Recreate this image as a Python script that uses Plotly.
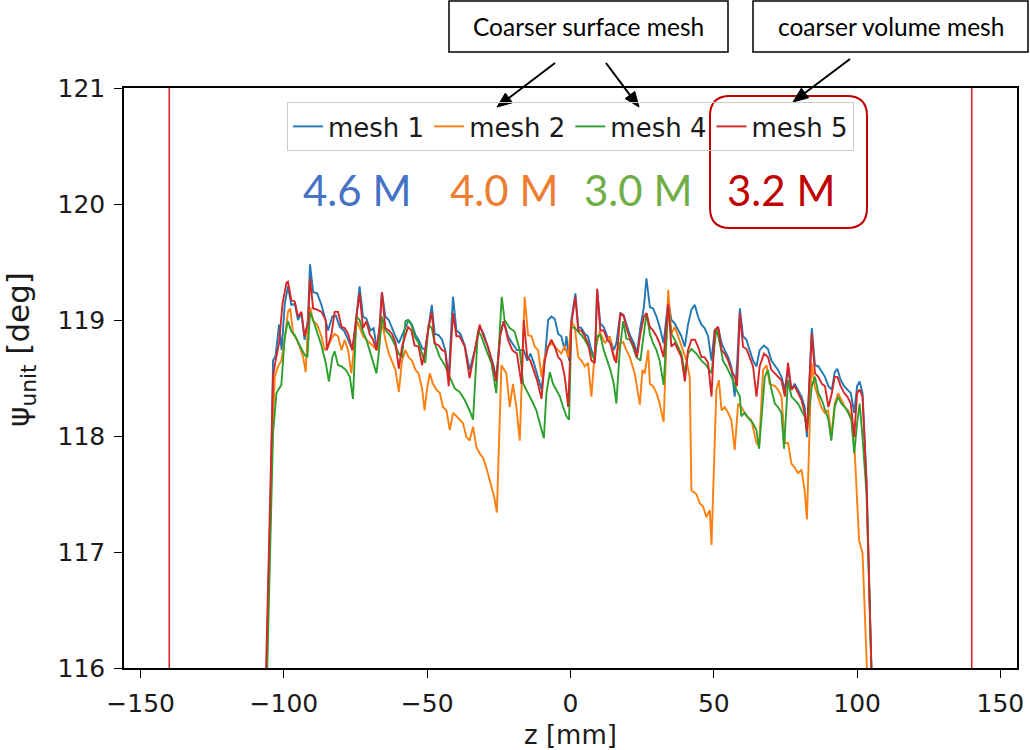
import math
import plotly.graph_objects as go

# ---------------------------------------------------------------- data
z_mesh1 = [-106.6, -104.4, -103.8, -102.9, -101.7, -100.8, -99.7, -98.6, -97.4, -96.2, -95.1, -93.9, -92.8,
           -91.6, -90.9, -89.8, -88.4, -86.9, -85.8, -84.6, -83.1, -81.9, -80.5, -79.1, -77.6, -76.1, -74.7,
           -73.6, -72.4, -71.2, -69.8, -68.7, -67.5, -66.6, -65.8, -64.6, -63.4, -62.3, -61.1, -59.9, -58.8,
           -57.6, -56.5, -55.3, -54.1, -53.0, -51.8, -50.7, -49.5, -48.4, -47.4, -46.0, -44.8, -43.7, -42.5,
           -41.0, -39.8, -38.4, -36.9, -35.2, -33.4, -31.7, -30.3, -28.8, -27.1, -25.9, -24.5, -23.3, -21.8,
           -20.3, -18.7, -17.7, -16.3, -15.1, -14.0, -12.8, -11.65, -10.1, -9.0, -7.8, -6.65, -5.5, -4.3, -3.2,
           -2.0, -1.4, -0.5, 0.3, 1.7, 2.7, 3.8, 5.0, 6.1, 7.3, 8.5, 9.3, 10.4, 11.6, 12.8, 13.9, 15.1, 16.0,
           17.4, 18.6, 19.8, 20.9, 22.1, 23.2, 24.4, 25.6, 26.5, 27.7, 28.8, 30.0, 31.1, 32.5, 34.1, 35.2, 36.4,
           37.5, 38.7, 39.9, 41.0, 42.2, 43.4, 44.5, 45.7, 46.8, 48.0, 49.2, 50.3, 51.5, 52.7, 53.8, 55.0, 56.1,
           57.3, 58.2, 59.1, 60.2, 61.4, 62.5, 63.7, 64.9, 66.0, 67.5, 68.9, 70.1, 71.3, 72.4, 73.6, 74.8, 75.9,
           77.1, 78.2, 79.4, 80.6, 81.7, 82.5, 84.2, 85.3, 86.5, 87.7, 88.8, 90.0, 91.2, 92.2, 93.1, 94.3, 95.5,
           96.6, 97.8, 99.0, 100.0, 100.9, 101.9, 103.3, 105.0, 105.6]
psi_mesh1 = [115.4, 117.71, 118.65, 118.69, 118.96, 118.74, 119.14, 119.29, 119.13, 119.14, 119.00, 119.06, 118.83,
             119.00, 119.48, 119.24, 119.23, 119.13, 119.03, 118.91, 119.03, 119.04, 118.94, 118.91, 118.83, 118.74,
             119.03, 119.29, 119.03, 119.01, 118.91, 118.93, 118.74, 118.94, 119.24, 119.03, 119.00, 118.93, 118.86,
             118.80, 118.87, 118.94, 119.00, 118.96, 118.87, 118.83, 118.76, 118.74, 118.94, 119.13, 118.88, 118.87,
             118.83, 118.74, 118.51, 119.20, 118.91, 118.88, 118.78, 118.57, 118.74, 118.94, 118.88, 118.77, 118.63,
             118.50, 118.88, 118.99, 118.86, 118.80, 118.74, 118.74, 118.74, 118.65, 118.71, 118.63, 118.54, 118.40,
             118.65, 119.00, 119.03, 119.01, 118.88, 118.86, 118.74, 118.86, 118.65, 119.00, 119.23, 118.94, 118.93,
             118.88, 118.86, 118.74, 118.68, 119.26, 118.97, 118.94, 118.86, 118.83, 118.74, 118.80, 119.06, 119.04,
             118.94, 118.86, 118.80, 118.71, 118.94, 119.11, 119.36, 119.11, 119.10, 119.03, 118.94, 118.80, 119.17,
             119.00, 118.97, 118.91, 118.86, 118.77, 118.96, 119.09, 119.13, 119.03, 118.96, 118.93, 118.86, 118.65,
             118.91, 118.94, 118.80, 118.74, 118.68, 118.60, 118.34, 118.65, 119.10, 118.86, 118.83, 118.74, 118.65,
             118.60, 118.74, 118.78, 118.75, 118.65, 118.61, 118.57, 118.51, 118.40, 118.57, 118.40, 118.45, 118.40,
             118.34, 118.25, 117.99, 118.93, 118.61, 118.60, 118.55, 118.51, 118.43, 118.40, 118.55, 118.58, 118.48,
             118.43, 118.40, 118.37, 118.20, 118.43, 118.47, 118.37, 117.62, 116.05, 115.4]

z_mesh2 = [-106.6, -104.4, -103.2, -102.05, -100.9, -99.7, -98.6, -97.8, -96.8, -95.7, -94.5, -93.3, -92.4, -91.5,
           -90.8, -89.8, -88.4, -86.9, -85.8, -84.6, -83.4, -82.3, -81.1, -79.9, -78.8, -77.6, -76.5, -75.3, -74.5,
           -73.6, -72.4, -71.2, -69.8, -68.7, -67.5, -66.6, -65.6, -64.6, -63.4, -62.3, -61.1, -59.9, -58.8, -57.6,
           -56.5, -55.3, -54.1, -53.0, -51.8, -50.9, -50.1, -49.1, -48.0, -46.8, -45.6, -44.5, -43.3, -42.1, -41.0,
           -39.8, -38.7, -37.5, -36.3, -35.2, -34.0, -32.9, -31.7, -30.5, -29.4, -28.2, -27.4, -26.6, -25.7, -24.1,
           -22.4, -21.2, -20.1, -18.9, -17.7, -16.0, -14.8, -13.6, -12.5, -11.3, -10.1, -9.0, -7.8, -6.65, -5.5,
           -4.3, -3.2, -2.0, -0.8, 0.3, 1.5, 2.7, 3.8, 5.0, 6.1, 7.3, 8.5, 10.2, 12.0, 13.7, 15.4, 17.2, 18.4, 19.5,
           20.7, 22.4, 24.2, 25.1, 25.9, 27.1, 27.7, 28.8, 30.0, 31.1, 32.5, 34.1, 35.2, 36.4, 37.5, 39.3, 40.5,
           41.6, 42.2, 43.9, 45.1, 46.3, 47.4, 48.6, 49.2, 50.9, 51.8, 52.7, 53.8, 55.0, 56.1, 57.3, 58.5, 59.6,
           61.4, 63.1, 64.9, 65.8, 67.2, 68.4, 69.5, 71.3, 72.4, 73.6, 74.8, 75.9, 77.1, 78.2, 79.4, 80.6, 81.7,
           82.5, 84.1, 85.2, 86.4, 87.5, 88.7, 89.9, 91.0, 92.2, 93.4, 94.5, 95.7, 96.9, 98.0, 99.2, 100.7, 101.9,
           103.6, 104.2]
psi_mesh2 = [115.4, 117.71, 118.51, 118.60, 118.65, 118.83, 119.07, 119.10, 118.88, 118.84, 118.77, 118.68, 118.55,
             119.03, 119.11, 118.99, 118.96, 118.86, 118.74, 118.77, 118.84, 118.88, 118.86, 118.74, 118.83, 118.74,
             118.54, 118.80, 118.99, 118.94, 118.86, 118.83, 118.80, 118.77, 118.74, 118.88, 118.96, 118.83, 118.71,
             118.65, 118.57, 118.38, 118.65, 118.74, 118.68, 118.65, 118.57, 118.54, 118.41, 118.22, 118.40, 118.54,
             118.45, 118.40, 118.37, 118.25, 118.22, 118.05, 118.20, 118.17, 118.14, 118.11, 117.99, 117.96, 118.08,
             117.91, 117.85, 117.81, 117.73, 117.62, 117.55, 117.47, 117.34, 118.61, 118.54, 118.25, 118.45, 118.25,
             117.96, 119.20, 118.87, 118.86, 118.77, 118.74, 118.51, 118.68, 118.77, 118.80, 118.77, 118.74, 118.71,
             118.78, 118.68, 118.99, 118.94, 118.68, 118.65, 118.60, 118.63, 118.34, 118.74, 118.90, 118.80, 118.86,
             118.65, 118.80, 118.81, 118.74, 118.68, 118.54, 118.27, 118.57, 118.54, 118.74, 118.45, 118.43, 118.37,
             118.28, 118.12, 119.26, 118.88, 118.94, 118.86, 118.74, 118.65, 118.51, 117.53, 117.50, 117.42, 117.39,
             117.30, 117.36, 117.06, 118.40, 118.48, 118.22, 118.25, 118.20, 118.14, 117.88, 118.28, 118.25, 118.17,
             118.14, 117.94, 117.91, 118.57, 118.61, 118.45, 118.43, 118.40, 118.34, 117.94, 117.94, 117.76, 117.73,
             117.68, 117.71, 117.53, 117.28, 118.63, 118.43, 118.34, 118.25, 118.20, 118.22, 117.99, 118.28, 118.37,
             118.31, 118.25, 118.22, 118.17, 117.85, 117.10, 116.99, 116.01, 115.5]

z_mesh4 = [-106.4, -104.0, -103.8, -102.6, -100.9, -99.7, -98.6, -97.4, -96.2, -95.1, -93.9, -92.8, -91.8, -90.9,
           -89.8, -88.4, -86.9, -85.4, -84.3, -83.1, -82.3, -81.1, -79.9, -78.4, -77.0, -75.9, -74.7, -73.6, -72.4,
           -71.2, -69.8, -68.7, -67.7, -66.8, -65.8, -64.6, -63.4, -62.3, -61.1, -59.9, -58.8, -57.6, -56.7, -55.5,
           -54.4, -53.0, -51.8, -50.7, -49.5, -48.4, -47.4, -45.6, -43.9, -42.1, -40.4, -38.7, -36.9, -35.2, -34.0,
           -32.3, -31.1, -29.4, -27.6, -25.9, -24.7, -24.0, -23.0, -21.2, -19.5, -17.7, -16.5, -15.4, -14.2, -13.0,
           -11.9, -10.7, -9.3, -8.4, -7.2, -6.1, -4.9, -3.7, -2.6, -1.4, -0.5, 0.3, 1.5, 2.7, 3.8, 5.0, 6.1, 7.3,
           8.5, 9.3, 10.4, 11.6, 12.8, 13.9, 15.1, 16.0, 17.2, 18.4, 19.5, 20.7, 21.8, 23.0, 24.4, 25.6, 26.5, 27.7,
           28.8, 30.0, 31.1, 32.5, 34.1, 35.2, 36.4, 37.5, 38.7, 39.9, 41.0, 42.2, 43.9, 45.7, 47.4, 49.2, 50.9,
           52.1, 53.2, 54.4, 55.6, 56.7, 57.9, 59.1, 59.6, 60.8, 62.5, 63.7, 64.9, 65.8, 67.8, 68.9, 70.1, 71.3,
           72.4, 73.6, 74.5, 75.9, 77.1, 78.2, 79.4, 80.6, 81.7, 82.5, 84.2, 85.3, 86.5, 87.7, 88.8, 90.0, 91.0,
           92.2, 93.4, 94.5, 95.7, 96.9, 98.0, 99.0, 100.0, 100.9, 101.9, 103.3, 105.0, 105.5]
psi_mesh4 = [115.4, 117.71, 118.02, 118.37, 118.44, 118.86, 118.99, 118.90, 118.87, 118.81, 118.75, 118.70, 118.68,
             119.07, 119.00, 118.90, 118.78, 118.63, 118.47, 118.68, 118.73, 118.61, 118.60, 118.57, 118.51, 118.32,
             119.03, 119.00, 118.90, 118.83, 118.71, 118.63, 118.54, 118.74, 119.03, 118.91, 118.88, 118.84, 118.78,
             118.71, 118.68, 118.99, 119.00, 118.96, 118.86, 118.80, 118.71, 118.63, 118.96, 118.93, 118.80, 118.68,
             118.61, 118.51, 118.41, 118.38, 118.31, 118.22, 118.14, 118.91, 118.86, 118.74, 118.63, 118.37, 118.88,
             119.20, 119.00, 118.93, 118.90, 118.74, 118.45, 118.40, 118.34, 118.28, 118.22, 118.11, 117.98, 118.37,
             118.55, 118.45, 118.40, 118.34, 118.25, 118.17, 118.14, 118.94, 118.93, 118.90, 118.87, 118.83, 118.78,
             118.71, 118.65, 118.86, 118.87, 118.74, 118.65, 118.57, 118.45, 118.28, 118.74, 118.99, 118.84, 118.83,
             118.77, 118.68, 118.65, 118.91, 119.06, 118.88, 118.80, 118.74, 118.65, 118.44, 119.11, 118.88, 118.83,
             118.77, 118.71, 118.54, 118.71, 118.75, 118.71, 118.65, 118.61, 118.54, 118.93, 118.80, 118.65, 118.60,
             118.54, 118.48, 118.40, 118.34, 118.17, 118.20, 118.14, 118.11, 118.05, 117.89, 118.51, 118.57, 118.40,
             118.28, 118.25, 118.20, 117.89, 118.48, 118.34, 118.31, 118.28, 118.22, 118.17, 118.05, 118.43, 118.51,
             118.37, 118.31, 118.22, 118.14, 117.96, 118.25, 118.34, 118.28, 118.25, 118.20, 118.14, 117.85, 118.11,
             118.28, 117.99, 117.50, 116.0, 115.5]

z_mesh5 = [-106.8, -104.7, -103.8, -102.9, -101.7, -100.5, -99.1, -98.6, -97.4, -96.2, -95.1, -93.9, -92.8, -91.6,
           -90.9, -89.8, -88.4, -86.9, -85.4, -85.0, -83.4, -82.3, -81.1, -79.9, -78.8, -77.6, -76.1, -74.7, -73.6,
           -72.4, -71.2, -70.1, -68.9, -67.7, -66.6, -65.8, -64.6, -63.4, -62.3, -61.1, -59.9, -58.8, -57.6, -56.7,
           -55.5, -54.4, -53.0, -51.8, -50.7, -49.5, -48.4, -47.4, -46.0, -44.8, -43.7, -42.5, -41.0, -39.8, -38.7,
           -36.9, -35.2, -33.4, -31.7, -30.3, -28.8, -27.1, -25.9, -24.5, -23.3, -21.8, -20.3, -18.7, -17.1, -16.3,
           -15.1, -14.0, -12.8, -11.65, -10.1, -9.0, -7.8, -6.65, -5.5, -4.3, -3.2, -2.0, -0.8, 0.3, 1.7, 2.7, 3.8,
           5.0, 6.1, 7.3, 8.5, 9.3, 10.4, 11.6, 12.8, 13.9, 15.1, 16.0, 17.4, 18.6, 19.8, 20.9, 22.1, 23.2, 24.4,
           25.6, 26.5, 27.7, 28.8, 30.0, 31.1, 32.5, 34.1, 35.2, 36.4, 37.5, 38.7, 39.9, 41.0, 42.2, 43.4, 44.5,
           45.7, 46.8, 48.0, 49.2, 50.3, 51.5, 52.7, 53.8, 55.0, 56.1, 57.3, 58.1, 59.1, 60.2, 61.4, 62.5, 63.7,
           64.9, 66.0, 67.5, 68.9, 70.1, 71.3, 72.4, 73.6, 74.8, 75.9, 77.1, 78.2, 79.4, 80.6, 81.7, 82.5, 84.2,
           85.3, 86.5, 87.7, 88.8, 90.0, 91.2, 92.2, 93.1, 94.3, 95.5, 96.6, 97.8, 99.0, 100.0, 100.9, 101.9, 103.3,
           105.0, 105.5]
psi_mesh5 = [115.4, 117.71, 118.51, 118.65, 118.80, 119.14, 119.32, 119.33, 119.17, 119.16, 119.03, 119.07, 118.86,
             118.97, 119.36, 119.10, 119.09, 119.07, 119.00, 118.74, 118.88, 119.07, 119.07, 118.94, 118.93, 118.88,
             118.74, 119.03, 119.23, 118.93, 118.99, 118.88, 118.83, 118.74, 118.94, 119.24, 118.93, 118.91, 118.88,
             118.81, 118.58, 118.77, 118.88, 118.94, 118.91, 118.78, 118.77, 118.61, 118.74, 118.94, 119.07, 118.80,
             118.78, 118.74, 118.73, 118.43, 119.06, 118.86, 118.86, 118.77, 118.50, 118.74, 118.96, 118.86, 118.77,
             118.61, 118.47, 118.87, 118.99, 118.83, 118.74, 118.71, 118.45, 119.00, 118.68, 118.65, 118.57, 118.48,
             118.32, 118.65, 118.77, 118.83, 118.77, 118.68, 118.65, 118.51, 118.25, 118.97, 119.20, 118.91, 118.91,
             118.86, 118.80, 118.65, 118.63, 119.27, 118.91, 118.91, 118.83, 118.80, 118.68, 118.63, 119.06, 119.03,
             118.91, 118.83, 118.77, 118.68, 118.88, 119.03, 119.06, 118.94, 118.91, 118.86, 118.80, 118.68, 119.14,
             118.77, 118.80, 118.74, 118.68, 118.47, 118.74, 118.83, 118.83, 118.77, 118.68, 118.68, 118.63, 118.34,
             118.91, 118.94, 118.74, 118.71, 118.65, 118.57, 118.51, 118.43, 119.06, 118.77, 118.75, 118.68, 118.60,
             118.34, 118.60, 118.71, 118.68, 118.57, 118.54, 118.51, 118.48, 118.34, 118.63, 118.40, 118.43, 118.37,
             118.31, 118.20, 118.04, 118.88, 118.54, 118.51, 118.45, 118.43, 118.25, 118.37, 118.51, 118.51, 118.43,
             118.37, 118.34, 118.28, 117.99, 118.37, 118.40, 118.34, 117.59, 116.0, 115.5]

# domain boundaries drawn as vertical lines
wall_z = [-140, 140]

series_names = ["mesh 1", "mesh 2", "mesh 4", "mesh 5"]
series_colors = ["#1f77b4", "#ff7f0e", "#2ca02c", "#d62728"]
series_z = [z_mesh1, z_mesh2, z_mesh4, z_mesh5]
series_psi = [psi_mesh1, psi_mesh2, psi_mesh4, psi_mesh5]

cell_counts = ["4.6 M", "4.0 M", "3.0 M", "3.2 M"]
cell_colors = ["#4472C4", "#ED7D31", "#70AD47", "#C00000"]

x_ticks = [-150, -100, -50, 0, 50, 100, 150]
y_ticks = [116, 117, 118, 119, 120, 121]

# ---------------------------------------------------------------- geometry
W, H = 1030, 750
L, R, T, B = 124, 13, 88, 82
PW, PH = W - L - R, H - T - B


def px_x(px):
    return (px - L) / PW


def px_y(py):
    return (T + PH - py) / PH


fig = go.Figure()
for name, zs, ps, col in zip(series_names, series_z, series_psi, series_colors):
    fig.add_trace(go.Scatter(x=zs, y=ps, mode="lines", name=name,
                             line=dict(color=col, width=1.9)))

for zw in wall_z:
    fig.add_shape(type="line", xref="x", yref="paper", x0=zw, x1=zw, y0=0, y1=1,
                  line=dict(color="#d62728", width=1.6))

axis_common = dict(showline=True, mirror=True, linecolor="black", linewidth=1.5,
                   ticks="outside", ticklen=8, tickwidth=1.3, tickcolor="black",
                   showgrid=False, zeroline=False, ticklabelstandoff=4, automargin=False,
                   tickfont=dict(family="DejaVu Sans", size=25, color="#1a1a1a"))

fig.update_layout(
    width=W, height=H,
    margin=dict(l=L, r=R, t=T, b=B, pad=0, autoexpand=False),
    paper_bgcolor="white", plot_bgcolor="white",
    xaxis=dict(range=[-155.8, 155.8], tickvals=x_ticks,
               title=dict(text="z [mm]", font=dict(family="DejaVu Sans", size=26, color="#1a1a1a"),
                          standoff=13),
               **axis_common),
    yaxis=dict(range=[116, 121], tickvals=y_ticks, **axis_common),
    legend=dict(orientation="h", x=0.5, xanchor="center", y=px_y(102), yanchor="top",
                font=dict(family="DejaVu Sans", size=26, color="#1a1a1a"),
                bgcolor="rgba(255,255,255,0)", bordercolor="#cccccc", borderwidth=1,
                itemwidth=30),
    showlegend=True,
)

# y axis label (rotated)
fig.add_annotation(xref="paper", yref="paper", x=px_x(20), y=px_y(350),
                   text="ψ<sub>unit</sub> [deg]", textangle=-90, showarrow=False,
                   xanchor="center", yanchor="middle",
                   font=dict(family="DejaVu Sans", size=31, color="#1a1a1a"))

# cell counts under the legend
for txt, col, cx in zip(cell_counts, cell_colors, [357, 504, 638, 781]):
    fig.add_annotation(xref="paper", yref="paper", x=px_x(cx), y=px_y(190),
                       text=txt, showarrow=False, xanchor="center", yanchor="middle",
                       font=dict(family="Lato", size=42, color=col))

# rounded frame around mesh 5
x0, x1, yt, yb, r = 710, 867, 96, 228, 20
rx, ry = r / PW, r / PH
X0, X1, YT, YB = px_x(x0), px_x(x1), px_y(yt), px_y(yb)
frame = (f"M {X0 + rx},{YT} L {X1 - rx},{YT} Q {X1},{YT} {X1},{YT - ry} "
         f"L {X1},{YB + ry} Q {X1},{YB} {X1 - rx},{YB} "
         f"L {X0 + rx},{YB} Q {X0},{YB} {X0},{YB + ry} "
         f"L {X0},{YT - ry} Q {X0},{YT} {X0 + rx},{YT} Z")
fig.add_shape(type="path", xref="paper", yref="paper", path=frame,
              line=dict(color="#C00000", width=2))

# callout boxes
for label, bx0, bx1 in [("Coarser surface mesh", 449, 728), ("coarser volume mesh", 753, 1028)]:
    fig.add_shape(type="rect", xref="paper", yref="paper",
                  x0=px_x(bx0), x1=px_x(bx1), y0=px_y(52), y1=px_y(1),
                  line=dict(color="black", width=1.5), fillcolor="white")
    fig.add_annotation(xref="paper", yref="paper", x=px_x((bx0 + bx1) / 2), y=px_y(26.5),
                       text=label, showarrow=False, xanchor="center", yanchor="middle",
                       font=dict(family="Lato", size=24.5, color="black"))

# arrows (tail -> head), drawn as a shaft plus a filled triangular head
HEAD_LEN, HEAD_W = 15, 12
for (tx, ty), (hx, hy) in [((555, 63), (497, 107)), ((606, 63), (639, 107)), ((850, 59), (793, 102))]:
    dx, dy = hx - tx, hy - ty
    n = math.hypot(dx, dy)
    ux, uy = dx / n, dy / n
    bx, by = hx - ux * HEAD_LEN, hy - uy * HEAD_LEN
    nx, ny = -uy * HEAD_W / 2, ux * HEAD_W / 2
    fig.add_shape(type="line", xref="paper", yref="paper",
                  x0=px_x(tx), y0=px_y(ty), x1=px_x(bx + ux), y1=px_y(by + uy),
                  line=dict(color="black", width=2))
    head = (f"M {px_x(hx)},{px_y(hy)} L {px_x(bx + nx)},{px_y(by + ny)} "
            f"L {px_x(bx - nx)},{px_y(by - ny)} Z")
    fig.add_shape(type="path", xref="paper", yref="paper", path=head,
                  line=dict(color="black", width=1), fillcolor="black")

fig.write_html("out.html")
